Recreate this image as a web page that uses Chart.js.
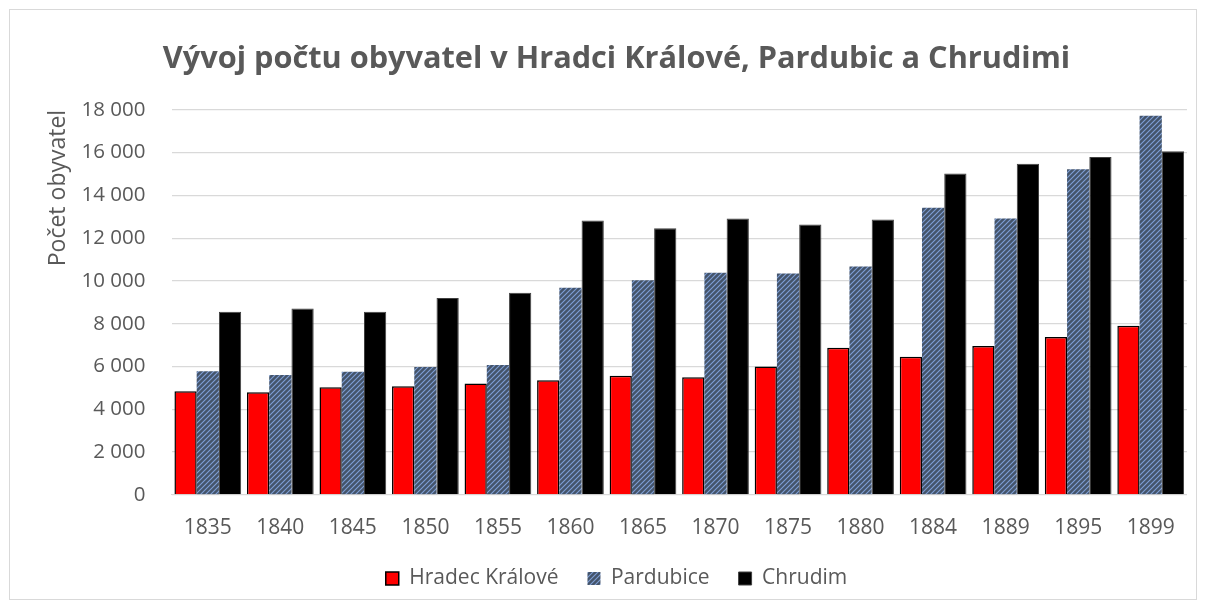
<!DOCTYPE html>
<html lang="cs">
<head>
<meta charset="utf-8">
<title>Vývoj počtu obyvatel</title>
<script src="https://cdn.jsdelivr.net/npm/chart.js@4/dist/chart.umd.min.js"></script>
<style>
    html, body { margin: 0; padding: 0; background: #ffffff; }
    #frame {
        position: absolute;
        left: 9px; top: 9px;
        width: 1188px; height: 591px;
        border: 1px solid #d9d9d9;
        box-sizing: border-box;
    }
    #myChart { display: block; }
</style>
</head>
<body>
<div id="frame"><canvas id="myChart"></canvas></div>
<script>
// Roky sčítání
const years = ['1835', '1840', '1845', '1850', '1855', '1860', '1865', '1870', '1875', '1880', '1884', '1889', '1895', '1899'];

// Počty obyvatel
const hradecKralove = [4840, 4790, 5030, 5080, 5200, 5360, 5570, 5500, 6000, 6880, 6450, 6960, 7380, 7900];
const pardubice = [5780, 5600, 5750, 5980, 6070, 9680, 10030, 10380, 10350, 10670, 13420, 12920, 15220, 17720];
const chrudim = [8560, 8710, 8560, 9200, 9450, 12830, 12460, 12920, 12640, 12870, 15020, 15480, 15800, 16060];

const gray = '#595959';
const font = "'Open Sans', 'Noto Sans', sans-serif";

// Šrafovaná výplň pro Pardubice (tmavě modrá se šikmými světlými proužky)
function makeStripes() {
    const s = 5;
    const c = document.createElement('canvas');
    c.width = s;
    c.height = s;
    const g = c.getContext('2d');
    g.fillStyle = '#44546a';
    g.fillRect(0, 0, s, s);
    g.strokeStyle = '#7f9fd6';
    g.lineWidth = 1.1;
    g.beginPath();
    g.moveTo(0, s); g.lineTo(s, 0);
    g.moveTo(-s / 2, s / 2); g.lineTo(s / 2, -s / 2);
    g.moveTo(s / 2, s * 1.5); g.lineTo(s * 1.5, s / 2);
    g.stroke();
    return document.getElementById('myChart').getContext('2d').createPattern(c, 'repeat');
}

function formatThousands(v) {
    return String(v).replace(/\B(?=(\d{3})+(?!\d))/g, ' ');
}

const stripes = makeStripes();

const data = {
    labels: years,
    datasets: [
        {
            label: 'Hradec Králové',
            data: hradecKralove,
            backgroundColor: '#ff0000',
            borderColor: '#000000',
            borderWidth: 1.5
        },
        {
            label: 'Pardubice',
            data: pardubice,
            backgroundColor: stripes,
            borderColor: '#44546a',
            borderWidth: 0
        },
        {
            label: 'Chrudim',
            data: chrudim,
            backgroundColor: '#000000',
            borderColor: '#404040',
            borderWidth: 1
        }
    ]
};

const config = {
    type: 'bar',
    data: data,
    options: {
        responsive: true,
        maintainAspectRatio: false,
        animation: false,
        datasets: {
            bar: {
                categoryPercentage: 0.92,
                barPercentage: 1.0
            }
        },
        layout: {
            padding: { top: 31, left: 35, right: 8, bottom: 0 }
        },
        scales: {
            x: {
                grid: { display: false, drawTicks: false },
                border: { color: '#d9d9d9', width: 1 },
                ticks: {
                    color: gray,
                    font: { family: font, size: 21 },
                    padding: 21
                },
                // legenda má být blíž k popiskům os
                afterFit: function (scale) {
                    scale.height -= 23;
                }
            },
            y: {
                min: 0,
                max: 18000,
                grid: { color: '#d9d9d9', lineWidth: 1.3, drawTicks: false },
                border: { display: false },
                ticks: {
                    stepSize: 2000,
                    color: gray,
                    font: { family: font, size: 20.5 },
                    padding: 26,
                    callback: function (value) {
                        return formatThousands(value);
                    }
                },
                title: {
                    display: true,
                    text: 'Počet obyvatel',
                    align: 'end',
                    color: gray,
                    font: { family: font, size: 23 },
                    padding: { top: 0, bottom: -17 }
                }
            }
        },
        plugins: {
            title: {
                display: true,
                text: 'Vývoj počtu obyvatel v Hradci Králové, Pardubic a Chrudimi',
                color: gray,
                font: { family: font, size: 30.7, weight: 'bold' },
                padding: { top: 0, bottom: 32 }
            },
            legend: {
                position: 'bottom',
                labels: {
                    color: gray,
                    font: { family: font, size: 21 },
                    boxWidth: 13,
                    boxHeight: 13,
                    padding: 29
                }
            },
            tooltip: { enabled: false }
        }
    }
};

// Vykreslení grafu
const ctx = document.getElementById('myChart').getContext('2d');
new Chart(ctx, config);
</script>
</body>
</html>
